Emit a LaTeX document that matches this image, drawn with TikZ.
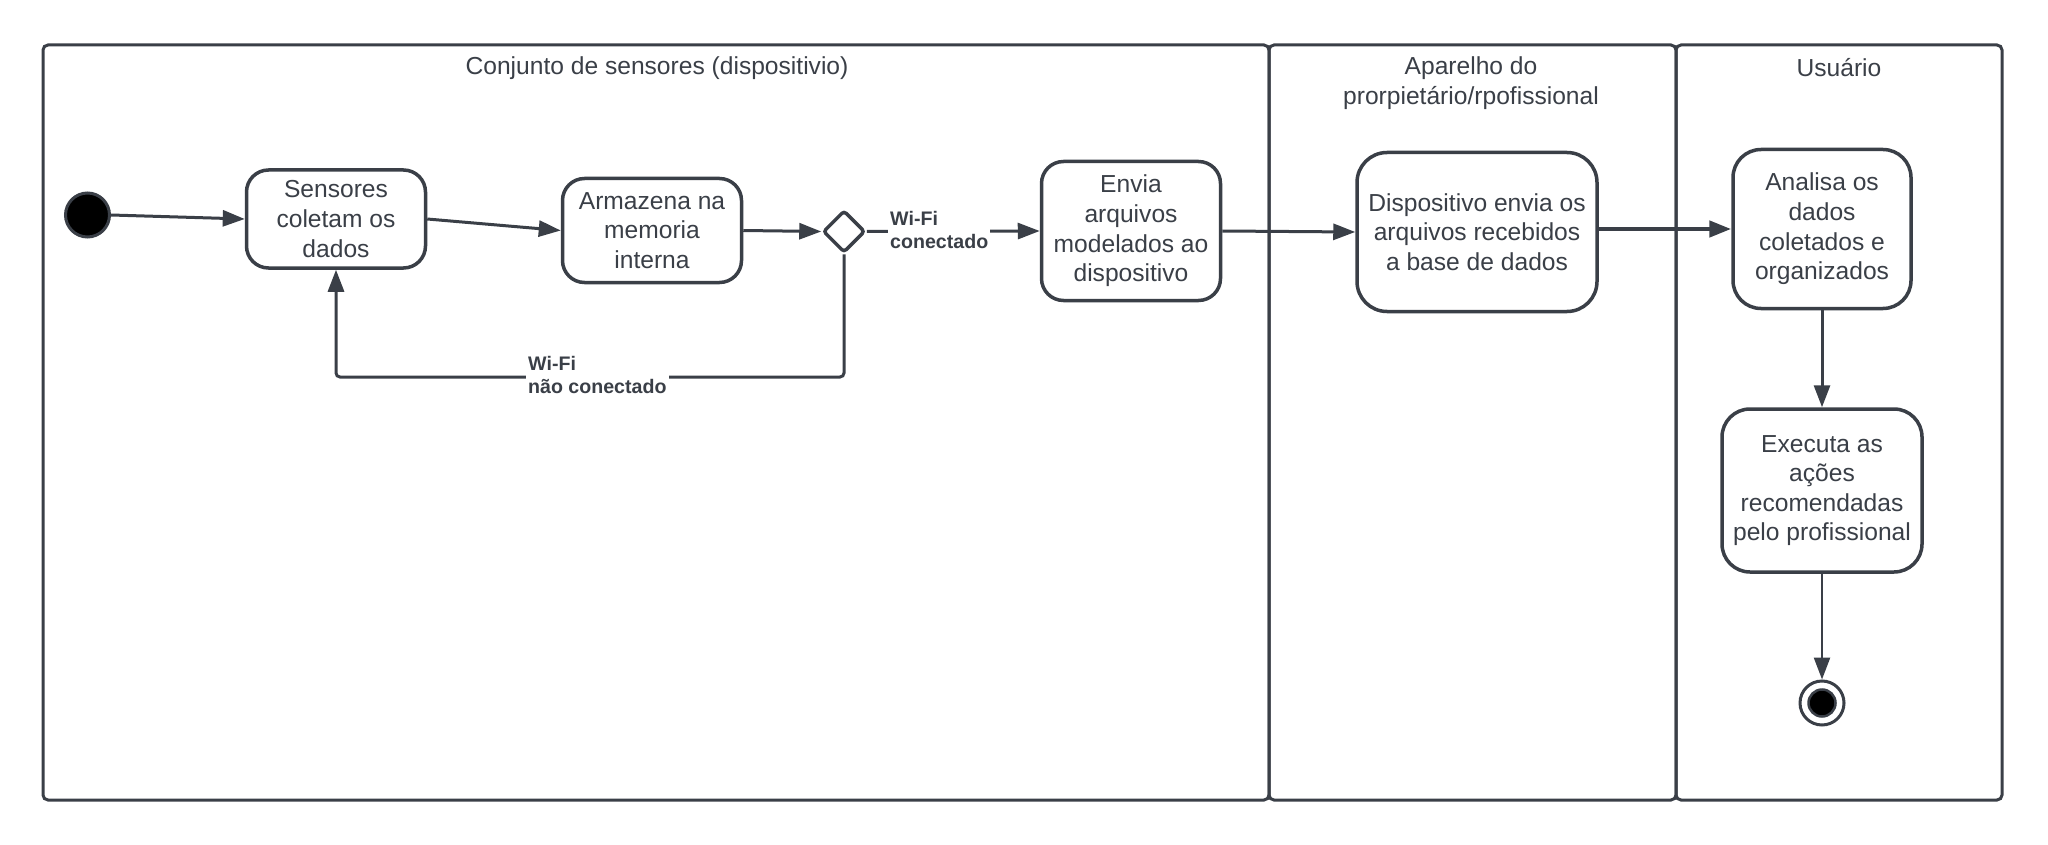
\documentclass[tikz,border=0pt]{standalone}
\usepackage{fontspec}
\setmainfont{Liberation Sans}
\usetikzlibrary{arrows.meta,shapes.geometric}
\definecolor{lc}{RGB}{58,63,71}
\begin{document}
\begin{tikzpicture}[x=1pt,y=-1pt,
  lane/.style={draw=lc, line width=3pt, rounded corners=5pt},
  act/.style={draw=lc, line width=3.5pt, rounded corners=22pt, align=center, inner sep=0pt, text=lc, fill=white,
    font=\fontsize{24.6}{29.6}\selectfont},
  title/.style={align=center, text=lc, font=\fontsize{24.6}{29.6}\selectfont},
  arr/.style={draw=lc, line width=3pt, -{Triangle[length=22pt,width=16pt]}},
  lbl/.style={align=left, fill=white, text=lc, inner sep=2pt, font=\bfseries\fontsize{19.6}{23.5}\selectfont}]
\useasboundingbox (0,0) rectangle (2048,845);
% lanes
\draw[lane] (43,45) rectangle (1269,800);
\draw[lane] (1269,45) rectangle (1676,800);
\draw[lane] (1676,45) rectangle (2002,800);
\node[title] (t1) at (657,68) {Conjunto de sensores (dispositivio)};
\node[title] (t2) at (1471,83) {Aparelho do\\prorpietário/rpofissional};
\node[title] (t3) at (1839,68) {Usuário};
% nodes
\node[circle, draw=lc, line width=3pt, fill=black, minimum size=44pt, inner sep=0pt] (start) at (87.5,215) {};
\node[act, minimum width=179pt, minimum height=98pt] (sens) at (336,219) {Sensores\\coletam os\\dados};
\node[act, minimum width=179pt, minimum height=104pt] (arm) at (652,230.5) {Armazena na\\memoria\\interna};
\node[diamond, draw=lc, line width=3.5pt, fill=white, minimum width=42pt, minimum height=42pt, inner sep=0pt, rounded corners=3pt] (dia) at (844,231.5) {};
\node[act, minimum width=179pt, minimum height=139pt] (env) at (1131,231) {Envia\\arquivos\\modelados ao\\dispositivo};
\node[act, minimum width=240pt, minimum height=159pt, rounded corners=30pt] (disp) at (1477,232) {Dispositivo envia os\\arquivos recebidos\\a base de dados};
\node[act, minimum width=178pt, minimum height=159pt, rounded corners=28pt] (ana) at (1822,229) {Analisa os\\dados\\coletados e\\organizados};
\node[act, minimum width=200pt, minimum height=163pt, rounded corners=28pt] (exe) at (1822,490.5) {Executa as\\ações\\recomendadas\\pelo profissional};
\node[circle, draw=lc, line width=3pt, fill=white, minimum size=44pt, inner sep=0pt] (end) at (1822,703) {};
\node[circle, draw=lc, line width=2.5pt, fill=black, minimum size=27pt, inner sep=0pt] (endin) at (end.center) {};
% connectors
\draw[arr] (start.east) -- (sens.west);
\draw[arr] (sens.east) -- (arm.west);
\draw[arr] (arm.east) -- (dia.west);
\draw[arr] (dia.east) -- (env.west);
\node[lbl, anchor=west] (l1) at (888,230) {Wi-Fi\\conectado};
\coordinate (loopy) at (0,377);
\draw[arr, rounded corners=4pt] (dia.south) -- (dia.south |- loopy) -- (sens.south |- loopy) -- (sens.south);
\node[lbl, anchor=west] (l2) at (526,375) {Wi-Fi\\não conectado};
\draw[arr] (env.east) -- (disp.west);
\draw[arr, line width=4.5pt] (disp.east |- ana.west) -- (ana.west);
\draw[arr] (ana.south) -- (exe.north);
\draw[arr, line width=2.5pt] (exe.south) -- (end.north);
\end{tikzpicture}
\end{document}
